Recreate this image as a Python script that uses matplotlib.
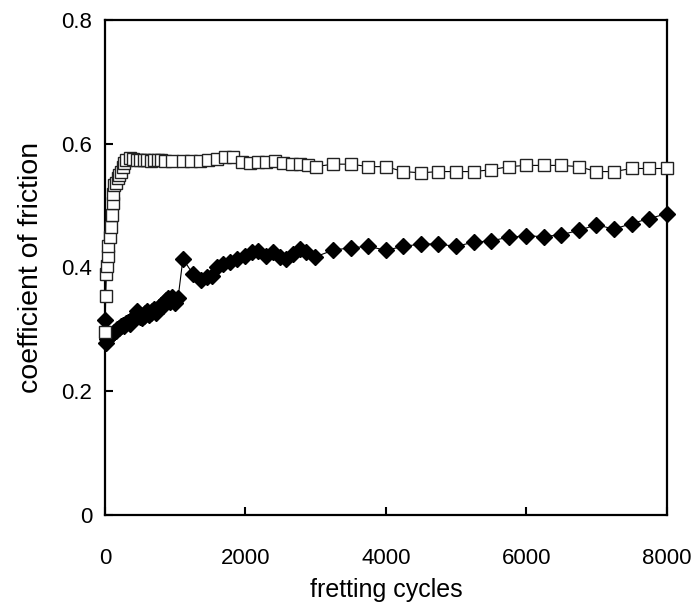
import matplotlib
matplotlib.use("Agg")
import matplotlib.pyplot as plt

plt.rcParams['font.family'] = ['Liberation Sans', 'DejaVu Sans']

# open squares
cyc_sq = [0, 10, 20, 30, 40, 50, 70, 80, 100, 110, 120, 125, 150, 180, 200, 230, 250, 270, 300, 350,
          400, 450, 500, 550, 600, 650, 700, 750, 800, 850, 950,
          1110, 1230, 1350, 1470, 1590, 1710, 1830, 1950, 2060, 2180, 2300, 2420, 2540, 2660, 2780, 2890, 3000,
          3250, 3500, 3750, 4000, 4250, 4500, 4750, 5000, 5250, 5500, 5750, 6000, 6250, 6500, 6750, 7000,
          7250, 7500, 7750, 8000]
cof_sq = [0.295, 0.354, 0.390, 0.403, 0.419, 0.434, 0.450, 0.465, 0.485, 0.505, 0.518, 0.534, 0.537, 0.545,
          0.550, 0.555, 0.563, 0.569, 0.574, 0.577,
          0.575, 0.574, 0.573, 0.574, 0.573, 0.572, 0.573, 0.574, 0.573, 0.572, 0.572,
          0.572, 0.572, 0.572, 0.574, 0.576, 0.579, 0.579, 0.571, 0.569, 0.570, 0.571, 0.572, 0.569,
          0.567, 0.567, 0.565, 0.563,
          0.567, 0.567, 0.563, 0.563, 0.555, 0.553, 0.555, 0.555, 0.555, 0.558, 0.563, 0.565, 0.565,
          0.565, 0.563, 0.555, 0.555, 0.560, 0.560, 0.560]

# filled diamonds
cyc_di = [0, 10, 25, 50, 75, 100, 125, 150, 175, 200, 225, 250, 275, 300, 325, 350, 375, 400, 425, 450,
          475, 500, 525, 550, 575, 600, 625, 650, 675, 700, 725, 750, 775, 800, 825, 850, 875, 900, 925,
          950, 975, 1000, 1040,
          1110, 1250, 1370, 1450, 1520, 1590, 1685, 1780, 1875, 1990, 2090, 2185, 2300, 2395, 2490, 2585,
          2680, 2775, 2870, 2990,
          3250, 3500, 3750, 4000, 4250, 4500, 4750, 5000, 5250, 5500, 5750, 6000, 6250, 6500, 6750, 7000,
          7250, 7500, 7750, 8000]
cof_di = [0.315, 0.278, 0.284, 0.288, 0.290, 0.293, 0.296, 0.298, 0.300, 0.303, 0.305, 0.307, 0.306,
          0.310, 0.312, 0.309, 0.314, 0.318, 0.322, 0.330, 0.327, 0.320, 0.318, 0.322, 0.327, 0.330,
          0.323, 0.326, 0.330, 0.333, 0.327, 0.331, 0.336, 0.340, 0.338, 0.343, 0.347, 0.350, 0.345,
          0.352, 0.348, 0.342, 0.350,
          0.414, 0.390, 0.379, 0.385, 0.387, 0.400, 0.406, 0.409, 0.414, 0.419, 0.425, 0.427, 0.419,
          0.425, 0.417, 0.414, 0.422, 0.430, 0.425, 0.417,
          0.428, 0.432, 0.434, 0.428, 0.434, 0.438, 0.438, 0.434, 0.441, 0.443, 0.449, 0.451, 0.450,
          0.453, 0.460, 0.469, 0.462, 0.471, 0.479, 0.487]

fig = plt.figure(figsize=(6.93, 6.11), dpi=100)
ax = fig.add_axes([0.1515, 0.1571, 0.8105, 0.8102])

ax.plot(cyc_di, cof_di, color='black', lw=0.8, marker='D', markersize=8,
        markerfacecolor='black', markeredgecolor='black', clip_on=False, zorder=3)
ax.plot(cyc_sq, cof_sq, color='black', lw=0.8, marker='s', markersize=9,
        markerfacecolor='white', markeredgecolor='#222222', markeredgewidth=1.0,
        clip_on=False, zorder=4)

ax.set_xlim(0, 8000)
ax.set_ylim(0, 0.8)
ax.set_xticks([0, 2000, 4000, 6000, 8000])
ax.set_yticks([0, 0.2, 0.4, 0.6, 0.8])
ax.set_yticklabels(['0', '0.2', '0.4', '0.6', '0.8'])
ax.tick_params(direction='in', length=6, width=1.5, labelsize=16)
ax.tick_params(axis='x', pad=24)
ax.tick_params(axis='y', pad=9)
for s in ax.spines.values():
    s.set_linewidth(1.6)

ax.set_xlabel('fretting cycles', fontsize=18, labelpad=6)
ax.set_ylabel('coefficient of friction', fontsize=20.5, labelpad=13)

fig.savefig('out.png', dpi=100)
